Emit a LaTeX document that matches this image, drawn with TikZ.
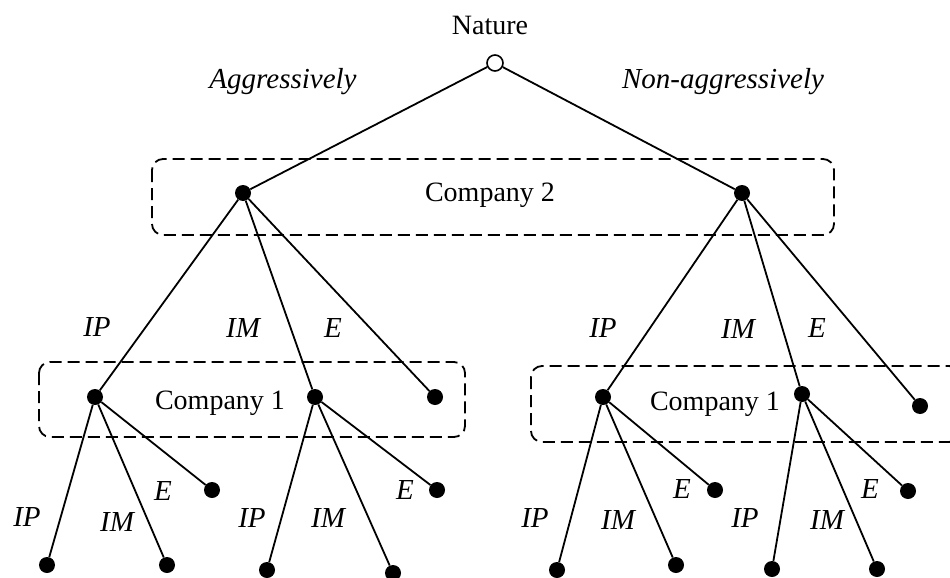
\documentclass[tikz,border=0pt]{standalone}
\usepackage{fontspec}
\setmainfont{Liberation Serif}
\begin{document}
\begin{tikzpicture}[x=1pt,y=-1pt,
  dot/.style={circle,fill=black,inner sep=0pt,minimum size=16pt},
  opendot/.style={circle,draw=black,fill=white,line width=1.6pt,inner sep=0pt,minimum size=16pt},
  edge/.style={line width=1.8pt},
  infobox/.style={draw=black,line width=1.8pt,dash pattern=on 12pt off 6pt,rounded corners=11pt},
  txt/.style={font=\fontsize{28}{32}\selectfont,inner sep=0pt},
  lbl/.style={font=\fontsize{29}{33}\selectfont\itshape,inner sep=0pt}]
\clip (0,0) rectangle (950,578);
\fill[white] (0,0) rectangle (950,578);
% information sets
\draw[infobox] (152,159) rectangle (834,235);
\draw[infobox] (39,362) rectangle (465,437);
\draw[infobox] (531,366) rectangle (960,442);
% nodes
\node[opendot] (N) at (495,63) {};
\node[dot] (L2) at (243,193) {};
\node[dot] (R2) at (742,193) {};
\node[dot] (A) at (95,397) {};
\node[dot] (B) at (315,397) {};
\node[dot] (LE) at (435,397) {};
\node[dot] (C) at (603,397) {};
\node[dot] (D) at (802,394) {};
\node[dot] (RE) at (920,406) {};
\node[dot] (a1) at (47,565) {};
\node[dot] (a2) at (167,565) {};
\node[dot] (a3) at (212,490) {};
\node[dot] (b1) at (267,570) {};
\node[dot] (b2) at (393,573) {};
\node[dot] (b3) at (437,490) {};
\node[dot] (c1) at (557,570) {};
\node[dot] (c2) at (676,565) {};
\node[dot] (c3) at (715,490) {};
\node[dot] (d1) at (772,569) {};
\node[dot] (d2) at (877,569) {};
\node[dot] (d3) at (908,491) {};
% edges
\draw[edge] (N) -- (L2);
\draw[edge] (N) -- (R2);
\draw[edge] (L2) -- (A);
\draw[edge] (L2) -- (B);
\draw[edge] (L2) -- (LE);
\draw[edge] (R2) -- (C);
\draw[edge] (R2) -- (D);
\draw[edge] (R2) -- (RE);
\draw[edge] (A) -- (a1);
\draw[edge] (A) -- (a2);
\draw[edge] (A) -- (a3);
\draw[edge] (B) -- (b1);
\draw[edge] (B) -- (b2);
\draw[edge] (B) -- (b3);
\draw[edge] (C) -- (c1);
\draw[edge] (C) -- (c2);
\draw[edge] (C) -- (c3);
\draw[edge] (D) -- (d1);
\draw[edge] (D) -- (d2);
\draw[edge] (D) -- (d3);
% texts
\node[txt] (tN) at (490,25) {Nature};
\node[lbl] (tAg) at (283,82) {Aggressively};
\node[lbl] (tNag) at (723,82) {Non-aggressively};
\node[txt] (tC2) at (490,195) {Company 2};
\node[txt] (tC1l) at (220,403) {Company 1};
\node[txt] (tC1r) at (715,404) {Company 1};
% action labels
\node[lbl] (l1) at (97,327) {IP};
\node[lbl] (l2) at (243,328) {IM};
\node[lbl] (l3) at (333,328) {E};
\node[lbl] (l4) at (603,328) {IP};
\node[lbl] (l5) at (738,329) {IM};
\node[lbl] (l6) at (817,328) {E};
\node[lbl] (l7) at (27,517) {IP};
\node[lbl] (l8) at (117,522) {IM};
\node[lbl] (l9) at (163,491) {E};
\node[lbl] (l10) at (252,518) {IP};
\node[lbl] (l11) at (328,518) {IM};
\node[lbl] (l12) at (405,490) {E};
\node[lbl] (l13) at (535,518) {IP};
\node[lbl] (l14) at (618,520) {IM};
\node[lbl] (l15) at (682,489) {E};
\node[lbl] (l16) at (745,518) {IP};
\node[lbl] (l17) at (827,520) {IM};
\node[lbl] (l18) at (870,489) {E};
\end{tikzpicture}
\end{document}
